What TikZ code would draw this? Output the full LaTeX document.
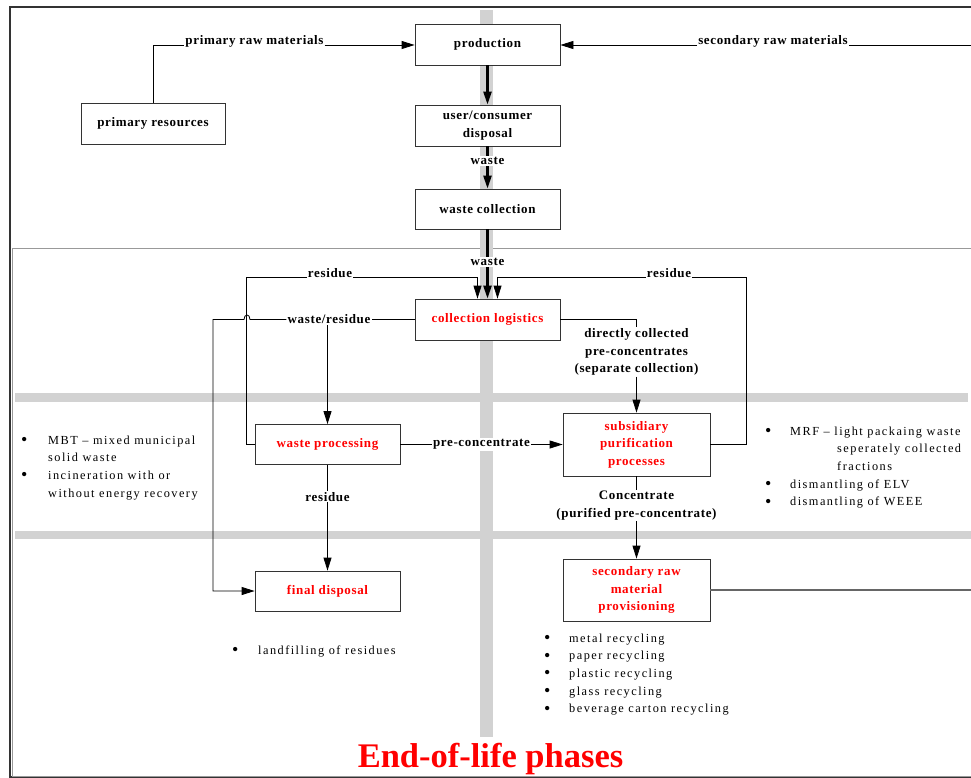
\documentclass[tikz,border=0pt]{standalone}
\usepackage{fontspec}
\setmainfont{Liberation Serif}
\newfontfamily\harva[LetterSpace=5]{Liberation Serif}
\newfontfamily\lista[LetterSpace=12]{Liberation Serif}
\newcommand{\pallo}{{\fontsize{18}{18}\selectfont\raisebox{-1.5pt}{\textbullet}}}
\usetikzlibrary{arrows.meta}

\begin{document}
\begin{tikzpicture}[x=1pt, y=1pt, >={Triangle[length=13pt, width=8pt]},
    laatikko/.style={draw=black!80, line width=0.8pt, fill=white,
      minimum width=145pt, minimum height=41pt, align=center, inner sep=1pt,
      font=\harva\bfseries\fontsize{13}{17.5}\selectfont},
    punainen/.style={laatikko, text=red},
    viiva/.style={line width=0.8pt, draw=black},
    paksu/.style={line width=2.4pt, draw=black},
    teksti/.style={fill=white, inner sep=1pt, align=center,
      font=\harva\bfseries\fontsize{13}{17.5}\selectfont},
    luettelo/.style={inner sep=0pt, anchor=base west,
      font=\lista\fontsize{12.3}{17.7}\selectfont},
    kaista/.style={fill=gray!35, draw=none}]

  \useasboundingbox (0,0) rectangle (971,-778);
  \clip (0,0) rectangle (971,-778);

  % Kehykset ja harmaat kaistat
  \draw[black!80, line width=1.6pt] (10,-7) rectangle (990,-777);
  \draw[black!40, line width=0.8pt] (12.5,-248) rectangle (990,-776.5);
  \fill[kaista] (480,-10) rectangle (493,-737);
  \fill[kaista] (15,-393) rectangle (968,-402);
  \fill[kaista] (15,-531) rectangle (980,-539);

  % Laatikot
  \node[laatikko] (prod) at (487.5,-44.5) {production};
  \node[laatikko] (kuluttaja) at (487.5,-125.5) {user/consumer\\disposal};
  \node[laatikko, minimum height=40pt] (keruu) at (487.5,-209) {waste collection};
  \node[laatikko, minimum width=144pt] (luonnon) at (153,-123.5) {primary resources};
  \node[punainen] (logistiikka) at (487.5,-319.5) {collection logistics};
  \node[punainen, minimum height=40pt] (kasittely) at (327.5,-444.5) {waste processing};
  \node[punainen, minimum width=147pt, minimum height=63pt] (puhdistus)
    at (636.5,-444.5) {subsidiary\\purification\\processes};
  \node[punainen, minimum height=40pt] (loppu) at (327.5,-591) {final disposal};
  \node[punainen, minimum width=147pt, minimum height=62pt] (toisio)
    at (636.5,-590) {secondary raw\\material\\provisioning};

  % Keskilinjan nuolet
  \draw[paksu, ->] (prod) -- (kuluttaja);
  \draw[paksu, ->] (kuluttaja) -- (keruu) node[teksti, pos=0.35] {waste};
  \draw[paksu, ->] (keruu) -- (logistiikka) node[teksti, pos=0.47] {waste};

  % Raaka-aineet
  \node[teksti, anchor=base] (raaka1) at (254.5,-45) {primary raw materials};
  \draw[viiva] (luonnon.north) |- (raaka1.base west);
  \draw[viiva, ->] (raaka1.base east) -- (raaka1.base east -| prod.west);
  \node[teksti, anchor=base] (raaka2) at (773,-45) {secondary raw materials};
  \draw[viiva, ->] (raaka2.base west) -- (raaka2.base west -| prod.east);
  \draw[viiva] (raaka2.base east) -- ++(150,0);
  \draw[line width=1.2pt, draw=black!60] (toisio.east) -- ++(300,0);

  % Jäännökset takaisin
  \node[teksti, anchor=base] (jaannos1) at (330,-277) {residue};
  \node[teksti, anchor=base] (jaannos2) at (669,-277) {residue};
  \draw[viiva] (kasittely.west) -- ++(-8,0) |- (jaannos1.base west);
  \draw[viiva, ->] (jaannos1.base east) -| ([xshift=-10pt]logistiikka.north);
  \draw[viiva] (puhdistus.east) -- ++(36,0) |- (jaannos2.base east);
  \draw[viiva, ->] (jaannos2.base west) -| ([xshift=10pt]logistiikka.north);

  % Jäte/jäännös
  \node[teksti] (jate) at (329,-319.5) {waste/residue};
  \coordinate (hyppy) at (247,-319.5);
  \draw[viiva] (logistiikka.west) -- (jate.east);
  \draw[viiva, ->] (jate.west) -- ([xshift=3pt]hyppy)
    .. controls +(0,6) and +(0,6) .. ([xshift=-3pt]hyppy)
    -- ++(-31,0) |- (loppu.west);
  \draw[viiva, ->] (jate.south -| kasittely.north) -- (kasittely.north);

  % Erilliskeräys
  \node[teksti] (suora) at (636.5,-352)
    {directly collected\\pre-concentrates\\(separate collection)};
  \draw[viiva] (logistiikka.east) -| (suora.north);
  \draw[viiva, ->] (suora.south) -- (puhdistus.north);

  \draw[viiva, ->] (kasittely.east) -- (puhdistus.west)
    node[teksti, midway] {pre-concentrate};
  \draw[viiva, ->] (kasittely.south) -- (loppu.north)
    node[teksti, pos=0.3] {residue};

  \node[teksti] (konsentraatti) at (636.5,-505.5)
    {Concentrate\\(purified pre-concentrate)};
  \draw[viiva] (puhdistus.south) -- (konsentraatti.north);
  \draw[viiva, ->] (konsentraatti.south) -- (toisio.north);

  % Luettelot
  \node[luettelo] (mbt) at (21,-444) {\begin{tabular}[t]{@{}p{27pt}@{}l@{}}
    \pallo & MBT – mixed municipal\\
           & solid waste\\
    \pallo & incineration with or\\
           & without energy recovery
  \end{tabular}};
  \node[luettelo] (mrf) at (765,-435) {\begin{tabular}[t]{@{}p{25pt}@{}l@{}}
    \pallo & MRF – light packaing waste\\
           & \hspace{47pt}seperately collected\\
           & \hspace{47pt}fractions\\
    \pallo & dismantling of ELV\\
    \pallo & dismantling of WEEE
  \end{tabular}};
  \node[luettelo] (kaatopaikka) at (232,-654) {\begin{tabular}[t]{@{}p{26pt}@{}l@{}}
    \pallo & landfilling of residues
  \end{tabular}};
  \node[luettelo] (kierratys) at (544,-642) {\begin{tabular}[t]{@{}p{25pt}@{}l@{}}
    \pallo & metal recycling\\
    \pallo & paper recycling\\
    \pallo & plastic recycling\\
    \pallo & glass recycling\\
    \pallo & beverage carton recycling
  \end{tabular}};

  % Otsikko
  \node[anchor=base, text=red, inner sep=0pt,
    font=\bfseries\fontsize{34.5}{40}\selectfont] (otsikko)
    at (490.5,-767) {End-of-life phases};
\end{tikzpicture}
\end{document}
